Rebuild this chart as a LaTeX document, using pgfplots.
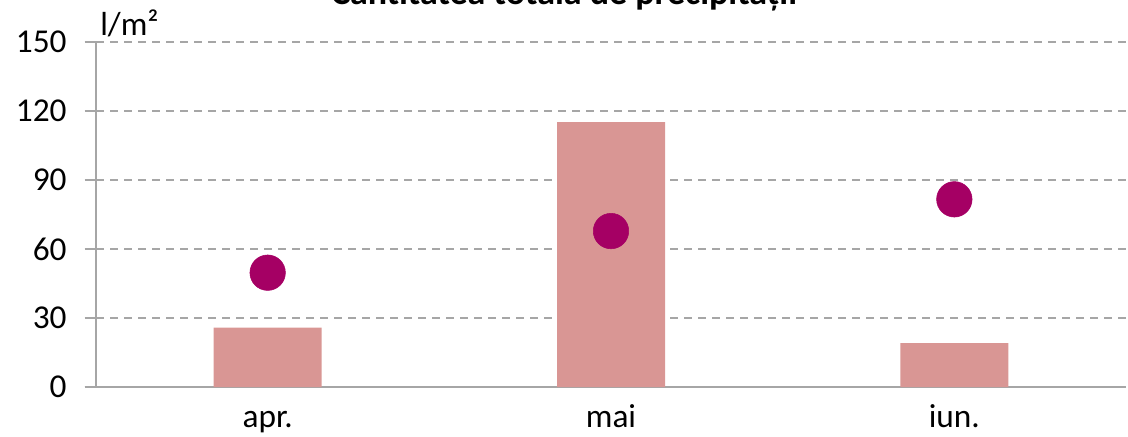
\documentclass[border=0pt]{standalone}
\usepackage{pgfplots}
\pgfplotsset{compat=1.18}
\usepackage{fontspec}
\setmainfont{Carlito}
\definecolor{barc}{RGB}{217,150,148}
\definecolor{dotc}{RGB}{165,0,100}
\definecolor{gridc}{RGB}{166,166,166}
\begin{document}
\begin{tikzpicture}
\path[use as bounding box, clip] (-72pt,-36.75pt) rectangle (774pt,290.25pt);
\begin{axis}[
  at={(0,0)}, anchor=south west,
  scale only axis,
  width=772.5pt, height=258.75pt,
  xmin=-0.5, xmax=2.5,
  ymin=0, ymax=150,
  ytick={0,30,60,90,120,150},
  xtick={0,1,2},
  xticklabels={apr., mai, iun.},
  axis x line*=bottom,
  axis y line*=left,
  axis line style={gridc, line width=1.5pt, -},
  x axis line style={shorten <=-8.5pt},
  ymajorgrids,
  major grid style={gridc, line width=1.5pt, dash pattern=on 6pt off 4.5pt},
  ytick style={gridc, line width=1.5pt},
  major tick length=8.5pt,
  tick align=outside,
  xtick style={draw=none},
  ticklabel style={font=\fontsize{25}{29}\selectfont},
  /pgf/number format/assume math mode=true,
  yticklabel style={xshift=-10pt},
  xticklabel style={anchor=base, yshift=-22pt},
  clip=false,
]
\addplot[ybar, bar width=81pt, fill=barc, draw=none] coordinates {(0,25.8) (1,115.2) (2,19.1)};
\addplot[only marks, mark=*, mark size=13.3pt, mark options={fill=dotc, draw=dotc}] coordinates {(0,49.7) (1,67.8) (2,81.6)};
\node[anchor=base west, font=\fontsize{25}{29}\selectfont, inner sep=0pt] at (rel axis cs:0,1) [xshift=3pt, yshift=5pt] {l/m²};
\end{axis}
\node[anchor=base, font=\bfseries\fontsize{27}{32}\selectfont, inner sep=0pt] at (351pt,286.5pt) {Cantitatea totală de precipitații};
\end{tikzpicture}
\end{document}
